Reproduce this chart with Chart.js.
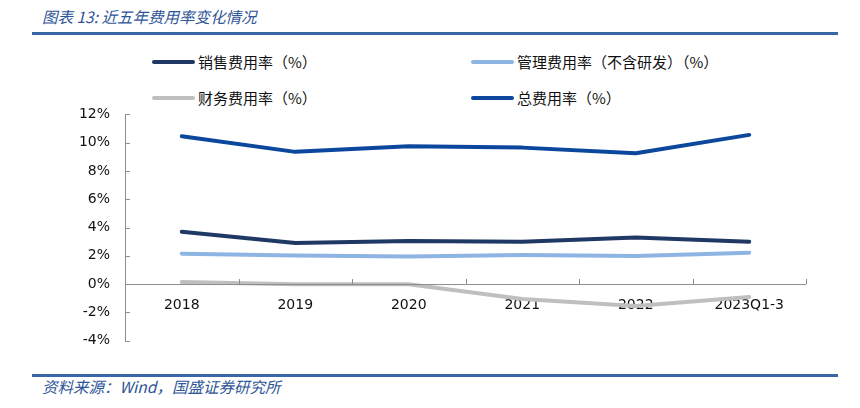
<!DOCTYPE html>
<html>
<head>
<meta charset="utf-8">
<script src="https://cdn.jsdelivr.net/npm/chart.js@4/dist/chart.umd.min.js"></script>
<style>
  body { margin: 0; background: #fff; width: 860px; height: 408px; position: relative; overflow: hidden; }
  .title { position: absolute; left: 42px; top: 5px; font: italic 15.5px "Noto Sans CJK SC"; color: #2E5597; }
  .rule { position: absolute; left: 32px; width: 806px; height: 3px; background: #3B66A6; }
  .src { position: absolute; left: 42px; top: 375px; font: italic 15.5px "Noto Sans CJK SC"; color: #2E5597; }
  .legend { position: absolute; font: 15px "Noto Sans CJK SC"; color: #111; display: flex; align-items: center; }
  .legend i { display: inline-block; width: 43px; height: 4px; border-radius: 2px; margin-right: 3px; }
  #wrap { position: absolute; left: 60px; top: 99px; width: 800px; height: 257px; }
</style>
</head>
<body>
<div class="title">图表 13: 近五年费用率变化情况</div>
<div class="rule" style="top:32px"></div>
<div id="legend"></div>
<div id="wrap"><canvas id="canvas"></canvas></div>
<div class="rule" style="top:374px"></div>
<div class="src">资料来源：Wind，国盛证券研究所</div>
<script>
// données
const categories = ['2018', '2019', '2020', '2021', '2022', '2023Q1-3'];
const seriesNames = ['销售费用率（%）', '管理费用率（不含研发）（%）', '财务费用率（%）', '总费用率（%）'];
const salesRate = [3.7, 2.9, 3.05, 3.0, 3.3, 3.0];
const adminRate = [2.15, 2.02, 1.95, 2.05, 1.98, 2.22];
const financeRate = [0.15, -0.02, -0.02, -1.05, -1.55, -0.92];
const totalRate = [10.45, 9.35, 9.75, 9.65, 9.25, 10.55];
const yTicks = [-4, -2, 0, 2, 4, 6, 8, 10, 12];

const colors = ['#1F3864', '#8EB4E3', '#BFBFBF', '#0B479C'];
const values = [salesRate, adminRate, financeRate, totalRate];

// légende en 2 colonnes
const legendPos = [[152, 51], [471, 51], [152, 87], [471, 87]];
const legendBox = document.getElementById('legend');
seriesNames.forEach((name, i) => {
  const d = document.createElement('div');
  d.className = 'legend';
  d.style.left = legendPos[i][0] + 'px';
  d.style.top = legendPos[i][1] + 'px';
  d.innerHTML = '<i style="background:' + colors[i] + '"></i>' + name;
  legendBox.appendChild(d);
});

// petites graduations vers l'intérieur
const tickMarks = {
  id: 'tickMarks',
  afterDraw(chart) {
    const ctx = chart.ctx;
    const x = chart.scales.x, y = chart.scales.y;
    const y0 = y.getPixelForValue(0);
    const half = (x.getPixelForValue(1) - x.getPixelForValue(0)) / 2;
    ctx.save();
    ctx.strokeStyle = '#8C8C8C';
    ctx.lineWidth = 1;
    ctx.beginPath();
    ctx.moveTo(x.left, y0 + 0.5);
    ctx.lineTo(x.right, y0 + 0.5);
    for (let i = 0; i <= categories.length; i++) {
      const px = Math.round(x.getPixelForValue(i) - half) + 0.5;
      ctx.moveTo(px, y0);
      ctx.lineTo(px, y0 - 5);
    }
    yTicks.forEach(v => {
      const py = Math.round(y.getPixelForValue(v)) + 0.5;
      ctx.moveTo(y.right, py);
      ctx.lineTo(y.right + 5, py);
    });
    ctx.stroke();
    ctx.restore();
  }
};

new Chart(document.getElementById('canvas'), {
  type: 'line',
  data: {
    labels: categories,
    datasets: seriesNames.map((name, i) => ({
      label: name,
      data: values[i],
      borderColor: colors[i],
      backgroundColor: colors[i],
      borderWidth: 4,
      pointRadius: 0,
      tension: 0,
      borderCapStyle: 'round',
      borderJoinStyle: 'round',
      order: i === 2 ? 3 : 0
    }))
  },
  options: {
    responsive: true,
    maintainAspectRatio: false,
    animation: false,
    layout: { padding: { top: 8, bottom: 11, right: 54, left: 0 } },
    plugins: { legend: { display: false }, tooltip: { enabled: false } },
    scales: {
      x: {
        position: { y: 0 },
        offset: true,
        z: 1,
        grid: { display: false },
        border: { display: false },
        ticks: { color: '#111', padding: 5, font: { family: 'DejaVu Sans', size: 14 }, maxRotation: 0 }
      },
      y: {
        min: -4,
        max: 12,
        afterFit(scale) { scale.width = 65; },
        afterBuildTicks(scale) { scale.ticks = yTicks.map(v => ({ value: v })); },
        grid: { display: false },
        border: { display: true, color: '#8C8C8C' },
        ticks: {
          color: '#111',
          padding: 7,
          font: { family: 'DejaVu Sans', size: 14 },
          callback: v => v + '%'
        }
      }
    }
  },
  plugins: [tickMarks]
});
</script>
</body>
</html>
